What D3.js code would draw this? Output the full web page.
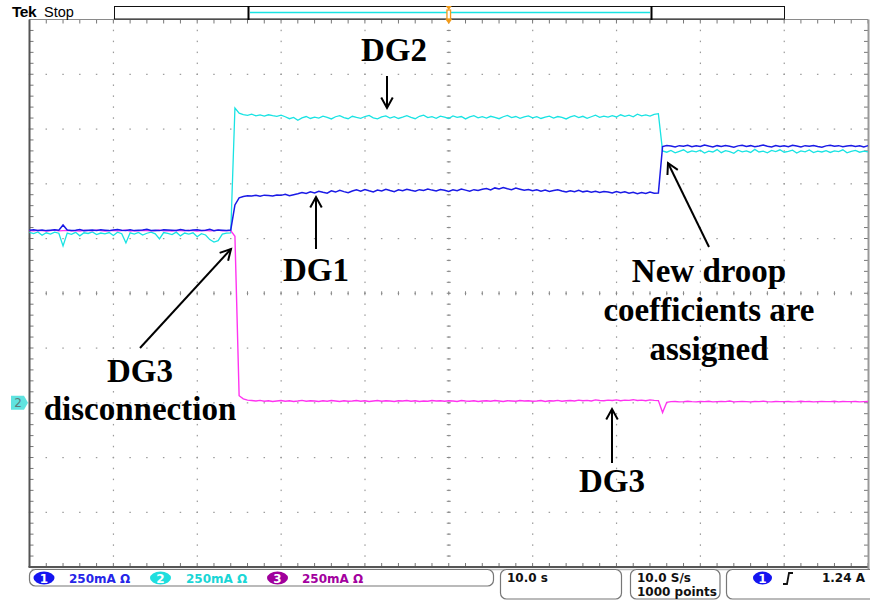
<!DOCTYPE html>
<html><head><meta charset="utf-8">
<script src="https://cdn.jsdelivr.net/npm/d3@7"></script>
<style>html,body{margin:0;padding:0;background:#fff;}svg{display:block;}</style>
</head><body>
<svg id="scope" width="870" height="602"></svg>
<script>
// Acquisition: 100 s record, shown decimated to one sample every 0.5 s
const sampleInterval = 0.5;   // s
const timeSpan = [0, 100];    // s (10 s/div, 10 divisions)
const ampPerDiv = 250;        // mA/div, all three channels
const groundDivsBelowCentre = 2;

// DG1 output current (mA)
const dg1 = [
  788,790,787,789,786,788,790,788,812,789, 787,788,791,786,788,789,787,790,788,786,
  789,791,788,787,790,786,788,789,792,787, 788,786,790,789,788,787,791,788,786,789,
  790,787,788,792,786,789,788,787,789,
  903,936,942,945,944,947,943,948,946,944, 949,947,952,945,950,954,960,956,963,958,
  966,961,957,968,962,970,964,959,967,972, 966,974,968,963,971,967,975,969,964,972,
  968,975,970,966,973,969,976,971,967,974, 970,965,972,968,976,971,966,973,969,975,
  978,972,981,976,983,977,973,980,975,970, 974,968,972,966,971,965,969,973,967,962,
  968,964,970,963,967,961,966,960,965,962, 958,964,959,963,957,961,955,960,956,962,957,958,
  1170,1175,1172,1168,1174,1171,1176,1169,1173,1170, 1177,1172,1168,1174,1170,1175,1171,1167,1173,1176,
  1170,1174,1169,1172,1177,1171,1168,1175,1170,1173, 1169,1176,1172,1168,1174,1171,1175,1170,1167,1173,
  1176,1171,1174,1169,1172,1175,1170,1173,1168,1174
];

// DG2 output current (mA)
const dg2 = [
  778,772,780,765,776,770,779,774,716,775, 769,778,762,776,773,780,768,775,771,777,
  764,779,772,730,776,770,778,766,774,779, 771,748,777,773,768,779,762,775,770,776,
  758,772,766,745,734,740,770,775,776,
  1346,1322,1316,1312,1318,1310,1314,1309,1315,1311, 1308,1313,1306,1297,1303,1290,1301,1307,1298,1304,
  1300,1309,1303,1296,1306,1311,1302,1297,1308,1303, 1299,1307,1312,1301,1296,1305,1310,1300,1306,1298,
  1304,1311,1303,1297,1308,1313,1302,1306,1299,1309, 1304,1298,1310,1303,1307,1296,1305,1311,1301,1306,
  1300,1308,1303,1297,1306,1312,1302,1307,1299,1305, 1310,1301,1306,1298,1304,1309,1300,1307,1303,1296,
  1305,1311,1302,1308,1299,1306,1313,1303,1309,1304, 1311,1305,1315,1308,1313,1306,1318,1310,1314,1309,1317,1320,
  1150,1144,1152,1141,1148,1155,1143,1150,1146,1153, 1140,1149,1145,1156,1142,1151,1147,1139,1153,1146,
  1150,1143,1157,1145,1149,1141,1152,1147,1155,1144, 1148,1153,1140,1150,1146,1154,1142,1149,1145,1151,
  1143,1150,1147,1155,1141,1148,1152,1144,1149,1146
];

// DG3 output current (mA)
const dg3 = [
  786,785,787,786,784,786,788,785,786,787, 785,786,784,787,786,785,788,786,784,786,
  787,785,786,788,784,786,785,787,786,785, 786,788,785,786,784,787,786,785,787,786,
  784,786,787,785,786,788,785,786,786,
  760,32,18,12,10,8,11,7,9,6, 8,10,7,9,6,8,11,7,9,8,
  6,9,7,10,8,6,9,7,8,10, 7,9,6,8,10,7,9,8,6,9,
  8,10,7,9,6,8,7,10,8,9, 7,9,8,6,10,8,7,9,6,8,
  9,7,10,8,6,9,8,7,10,8, 9,7,8,10,6,9,8,11,7,9,
  10,8,12,9,11,8,13,10,9,12, 10,13,9,12,11,14,10,12,9,13,11,10,
  -45,2,5,6,4,5,7,5,4,6, 5,7,4,5,6,5,8,4,5,6,
  5,4,6,5,7,5,4,6,5,5, 6,4,5,7,5,6,4,5,6,5,
  5,7,4,6,5,5,6,4,5,6
];

const channelNames = ["1", "2", "3"];
const channelScales = ["250mA \u03A9", "250mA \u03A9", "250mA \u03A9"];
const horizontalLabel = "10.0 s";
const acquisitionLabels = ["10.0 S/s", "1000 points"];
const triggerLabel = "1.24 A";

const colors = {
  ch1: "#1a1ae6", ch2: "#19e3e3", ch3: "#ff33f0",
  badge1: "#1414f0", badge2: "#1fdede", badge3: "#a0009c",
  text1: "#2525e8", text2: "#1ad6d6", text3: "#a3009e",
  frame: "#555", grid: "#9a9a9a"
};

const svg = d3.select("#scope");
const plot = {left: 29.5, right: 868, top: 19.5, bottom: 567};

const x = d3.scaleLinear().domain(timeSpan).range([plot.left, plot.right]);
const nDivY = 10;
const yTop = ampPerDiv * (nDivY / 2 + groundDivsBelowCentre);
const yBottom = yTop - ampPerDiv * nDivY;
const y = d3.scaleLinear().domain([yBottom, yTop]).range([plot.bottom, plot.top]);

const xMajor = d3.range(timeSpan[0], timeSpan[1] + 0.01, 10);
const xMinor = d3.range(timeSpan[0], timeSpan[1] + 0.01, 2);
const yMajor = d3.range(yBottom, yTop + 0.01, ampPerDiv);
const yMinor = d3.range(yBottom, yTop + 0.01, ampPerDiv / 5);
const xCentre = (timeSpan[0] + timeSpan[1]) / 2;
const yCentre = (yBottom + yTop) / 2;

// ---- graticule ----
const g = svg.append("g");
// dotted division lines
xMajor.slice(1, -1).forEach(t => {
  yMinor.forEach(v => {
    g.append("rect").attr("x", x(t) - 0.5).attr("y", y(v) - 0.75)
      .attr("width", 1.2).attr("height", 1.5).attr("fill", colors.grid);
  });
});
yMajor.slice(1, -1).forEach(v => {
  xMinor.forEach(t => {
    g.append("rect").attr("x", x(t) - 0.75).attr("y", y(v) - 0.5)
      .attr("width", 1.5).attr("height", 1.2).attr("fill", colors.grid);
  });
});
// centre crosshair ticks
yMinor.forEach(v => {
  g.append("line").attr("x1", x(xCentre) - 2).attr("x2", x(xCentre) + 2)
    .attr("y1", y(v)).attr("y2", y(v)).attr("stroke", "#888").attr("stroke-width", 1);
});
xMinor.forEach(t => {
  g.append("line").attr("x1", x(t)).attr("x2", x(t))
    .attr("y1", y(yCentre) - 2).attr("y2", y(yCentre) + 2).attr("stroke", "#888").attr("stroke-width", 1);
});
// edge ticks
yMinor.forEach(v => {
  g.append("line").attr("x1", plot.left).attr("x2", plot.left + 4)
    .attr("y1", y(v)).attr("y2", y(v)).attr("stroke", "#777");
  g.append("line").attr("x1", plot.right - 4).attr("x2", plot.right)
    .attr("y1", y(v)).attr("y2", y(v)).attr("stroke", "#777");
});
xMinor.forEach(t => {
  g.append("line").attr("x1", x(t)).attr("x2", x(t))
    .attr("y1", plot.top).attr("y2", plot.top + 4).attr("stroke", "#777");
  g.append("line").attr("x1", x(t)).attr("x2", x(t))
    .attr("y1", plot.bottom - 4).attr("y2", plot.bottom).attr("stroke", "#777");
});
// frame
g.append("line").attr("x1", plot.left).attr("x2", plot.right).attr("y1", plot.top).attr("y2", plot.top)
  .attr("stroke", "#8a8a8a").attr("stroke-width", 1);
g.append("line").attr("x1", plot.left).attr("x2", plot.left).attr("y1", plot.top).attr("y2", plot.bottom)
  .attr("stroke", colors.frame).attr("stroke-width", 2);
g.append("line").attr("x1", plot.left - 1).attr("x2", plot.right + 1).attr("y1", plot.bottom).attr("y2", plot.bottom)
  .attr("stroke", colors.frame).attr("stroke-width", 2);
g.append("line").attr("x1", plot.left + 2).attr("x2", plot.right + 2).attr("y1", plot.bottom + 2.5).attr("y2", plot.bottom + 2.5)
  .attr("stroke", "#bbb").attr("stroke-width", 1.5);
g.append("line").attr("x1", plot.right + 0.5).attr("x2", plot.right + 0.5).attr("y1", plot.top).attr("y2", plot.bottom + 3)
  .attr("stroke", "#999").attr("stroke-width", 2);

// ---- traces ----
const line = d3.line().x((d, i) => x(i * sampleInterval)).y(d => y(d));
const traces = svg.append("g");
traces.append("path").datum(dg2).attr("d", line).attr("fill", "none")
  .attr("stroke", colors.ch2).attr("stroke-width", 1.3);
traces.append("path").datum(dg3).attr("d", line).attr("fill", "none")
  .attr("stroke", colors.ch3).attr("stroke-width", 1.4);
traces.append("path").datum(dg1).attr("d", line).attr("fill", "none")
  .attr("stroke", colors.ch1).attr("stroke-width", 1.5);

// ---- annotations ----
const ann = svg.append("g").attr("font-family", "'Liberation Serif','Times New Roman',serif")
  .attr("font-weight", "bold").attr("font-size", 33).attr("fill", "#000").attr("text-anchor", "middle");
const labels = [
  {text: "DG2", x: 394, y: 61},
  {text: "DG1", x: 316, y: 281},
  {text: "DG3", x: 612, y: 492},
  {text: "New droop", x: 709, y: 282},
  {text: "coefficients are", x: 709, y: 321},
  {text: "assigned", x: 709, y: 360},
  {text: "DG3", x: 140, y: 382},
  {text: "disconnection", x: 140, y: 420}
];
labels.forEach(l => ann.append("text").attr("x", l.x).attr("y", l.y).text(l.text));

const arrows = [
  {from: [387, 76], to: [387, 108]},
  {from: [316, 249], to: [316, 197]},
  {from: [612, 463], to: [612, 409]},
  {from: [709, 247], to: [668, 163]},
  {from: [140, 348], to: [231, 249]}
];
arrows.forEach(a => {
  const [x1, y1] = a.from, [x2, y2] = a.to;
  const ang = Math.atan2(y2 - y1, x2 - x1);
  const L = 12, spread = 0.5;
  ann.append("line").attr("x1", x1).attr("y1", y1).attr("x2", x2).attr("y2", y2)
    .attr("stroke", "#000").attr("stroke-width", 2);
  const p1 = [x2 - L * Math.cos(ang - spread), y2 - L * Math.sin(ang - spread)];
  const p2 = [x2 - L * Math.cos(ang + spread), y2 - L * Math.sin(ang + spread)];
  ann.append("path").attr("d", `M${p1}L${x2},${y2}L${p2}`).attr("fill", "none")
    .attr("stroke", "#000").attr("stroke-width", 2);
});

// ---- header: brand, run state, record view ----
const hdr = svg.append("g");
hdr.append("text").attr("x", 12).attr("y", 17).attr("font-family", "'Liberation Sans Narrow','Liberation Sans',sans-serif")
  .attr("font-weight", "bold").attr("font-size", 15.5).attr("letter-spacing", -0.5).text("Tek");
hdr.append("text").attr("x", 44).attr("y", 17).attr("font-family", "'Liberation Sans Narrow','Liberation Sans',sans-serif")
  .attr("font-size", 14.5).text("Stop");
hdr.append("rect").attr("x", 114.5).attr("y", 6.5).attr("width", 670).attr("height", 12.5)
  .attr("fill", "#fff").attr("stroke", "#111").attr("stroke-width", 1);
hdr.append("line").attr("x1", 248.5).attr("x2", 248.5).attr("y1", 6).attr("y2", 20).attr("stroke", "#000").attr("stroke-width", 2);
hdr.append("line").attr("x1", 651.5).attr("x2", 651.5).attr("y1", 6).attr("y2", 20).attr("stroke", "#000").attr("stroke-width", 2);
hdr.append("line").attr("x1", 250).attr("x2", 650).attr("y1", 12.5).attr("y2", 12.5).attr("stroke", colors.ch2).attr("stroke-width", 1.5);
// trigger position marker
const tx = x(xCentre);
hdr.append("path").attr("d", `M${tx - 3},6L${tx + 3},6L${tx},10Z`).attr("fill", "#f29b1a");
hdr.append("rect").attr("x", tx - 1.8).attr("y", 10).attr("width", 3.6).attr("height", 9)
  .attr("fill", "#fff").attr("stroke", "#f29b1a").attr("stroke-width", 1.3);
hdr.append("path").attr("d", `M${tx - 3.5},19L${tx + 3.5},19L${tx},24Z`).attr("fill", "#f29b1a");

// ground marker for channel 2
const gy = y(0);
svg.append("path").attr("d", `M11,${gy - 7}L24,${gy - 7}L28,${gy}L24,${gy + 7}L11,${gy + 7}Z`)
  .attr("fill", "#5fe3e0");
svg.append("text").attr("x", 18).attr("y", gy + 4.5).attr("text-anchor", "middle")
  .attr("font-family", "'DejaVu Sans',sans-serif").attr("font-size", 12).attr("fill", "#5b7b7b").text("2");

// ---- status bar ----
const sb = svg.append("g").attr("font-family", "'DejaVu Sans',sans-serif").attr("font-weight", "bold").attr("font-size", 12);
const box = (x0, y0, w, h) => sb.append("rect").attr("x", x0).attr("y", y0).attr("width", w).attr("height", h)
  .attr("rx", 6).attr("fill", "#fff").attr("stroke", "#777").attr("stroke-width", 1.2);
box(29.5, 569.5, 464, 16.5);
box(500.5, 569.5, 121, 29.5);
box(630.5, 569.5, 89.5, 29.5);
box(726.5, 569.5, 150, 29.5);

const chBadgeX = [44, 160.5, 277.5];
const chTextX = [69, 186, 302];
const badgeCols = [colors.badge1, colors.badge2, colors.badge3];
const textCols = [colors.text1, colors.text2, colors.text3];
channelNames.forEach((c, i) => {
  sb.append("ellipse").attr("cx", chBadgeX[i]).attr("cy", 578).attr("rx", 10.5).attr("ry", 6.5).attr("fill", badgeCols[i]);
  sb.append("text").attr("x", chBadgeX[i]).attr("y", 582.5).attr("text-anchor", "middle").attr("fill", "#fff").text(c);
  sb.append("text").attr("x", chTextX[i]).attr("y", 582.5).attr("fill", textCols[i]).text(channelScales[i]);
});
sb.append("text").attr("x", 507).attr("y", 582).attr("fill", "#111").text(horizontalLabel);
sb.append("text").attr("x", 637).attr("y", 582).attr("fill", "#111").text(acquisitionLabels[0]);
sb.append("text").attr("x", 637).attr("y", 596).attr("fill", "#111").text(acquisitionLabels[1]);
sb.append("ellipse").attr("cx", 762.5).attr("cy", 578).attr("rx", 9.5).attr("ry", 6.5).attr("fill", colors.badge1);
sb.append("text").attr("x", 762.5).attr("y", 582.5).attr("text-anchor", "middle").attr("fill", "#fff").text("1");
sb.append("path").attr("d", "M783,584L787,584L789,573L793,573").attr("fill", "none").attr("stroke", "#111").attr("stroke-width", 1.8);
sb.append("text").attr("x", 865).attr("y", 582).attr("text-anchor", "end").attr("fill", "#111").text(triggerLabel);
</script>
</body></html>
